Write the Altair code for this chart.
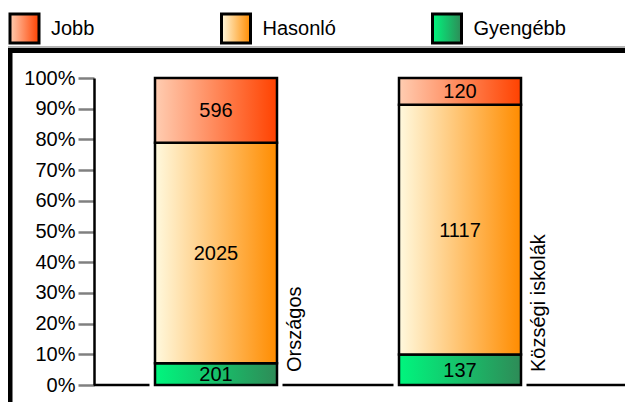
import altair as alt
import pandas as pd

# ---- data ----
groups = ["Országos", "Községi iskolák"]
categories = ["Gyengébb", "Hasonló", "Jobb"]          # bottom -> top
counts_orszagos = [201, 2025, 596]
counts_kozsegi = [137, 1117, 120]
legend_order = ["Jobb", "Hasonló", "Gyengébb"]
y_ticks = [0, 0.1, 0.2, 0.3, 0.4, 0.5, 0.6, 0.7, 0.8, 0.9, 1.0]

grad_colors = {
    "Jobb": ("#FFCDB2", "#FF4200"),
    "Hasonló": ("#FFF9DE", "#FF8C00"),
    "Gyengébb": ("#00F67E", "#2E8B57"),
}

rows = []
for g, cnts in zip(groups, [counts_orszagos, counts_kozsegi]):
    for i, (c, n) in enumerate(zip(categories, cnts)):
        rows.append({"group": g, "category": c, "count": n, "order": i})
df = pd.DataFrame(rows)


def grad(c):
    a, b = grad_colors[c]
    return alt.Gradient(
        gradient="linear",
        stops=[alt.GradientStop(color=a, offset=0), alt.GradientStop(color=b, offset=1)],
        x1=0, x2=1, y1=0, y2=0,
    )


# ---- layout ----
W, H = 488, 307
PL, PT, PR, PB = 86, 70, 43, 17
FONT = "Liberation Sans"

xscale = alt.Scale(domain=groups, paddingInner=0.5, paddingOuter=0.25)
yscale = alt.Scale(domain=[0, 1])
yaxis = alt.Axis(
    values=y_ticks, format=".0%", grid=False, title=None,
    labelFontSize=20, labelColor="black", labelFont=FONT, labelPadding=3,
    tickColor="#808080", tickSize=16, tickWidth=2.5,
    domainColor="black", domainWidth=2.5,
)
X = alt.X("group:N", scale=xscale, axis=None, sort=groups)

base = alt.Chart(df).transform_stack(
    stack="count", groupby=["group"], as_=["y0", "y1"], offset="normalize",
    sort=[alt.SortField(field="order", order="ascending")],
).transform_calculate(mid="(datum.y0 + datum.y1) / 2")

one = pd.DataFrame({"k": [0]})

layers = []

# baseline
layers.append(
    alt.Chart(one).mark_rule(color="black", strokeWidth=2.5).encode(
        x=alt.value(0), x2=alt.value(W + PR),
        y=alt.datum(0, scale=yscale, axis=yaxis),
    )
)

# white mask round the bars (breaks the baseline next to the bars)
layers.append(
    base.mark_bar(fill="white", stroke="white", strokeWidth=11).encode(
        x=X, y=alt.Y("y0:Q", scale=yscale, axis=yaxis), y2="y1:Q"
    )
)

# gradient bar segments
for c in categories:
    layers.append(
        base.transform_filter(alt.datum.category == c)
        .mark_bar(color=grad(c), stroke="black", strokeWidth=2.5)
        .encode(x=X, y=alt.Y("y0:Q", scale=yscale, axis=yaxis), y2="y1:Q")
    )

# values in segments
layers.append(
    base.mark_text(fontSize=20, font=FONT, color="black", baseline="middle", dy=1).encode(
        x=X, y=alt.Y("mid:Q", scale=yscale, axis=yaxis), text="count:Q"
    )
)

# group labels, vertical, to the right of each bar
layers.append(
    alt.Chart(pd.DataFrame({"group": groups}))
    .mark_text(fontSize=20, font=FONT, color="black", angle=270, align="left",
               baseline="alphabetic", dx=13, dy=24)
    .encode(x=alt.X("group:N", scale=xscale, axis=None, sort=groups, bandPosition=1),
            y=alt.value(H), text="group:N")
)

# frame: thin grey line, thick black top and left lines
layers.append(
    alt.Chart(one).mark_rule(color="#9a9a9a", strokeWidth=1.5).encode(
        x=alt.value(-PL), x2=alt.value(W + PR), y=alt.value(-31)
    )
)
layers.append(
    alt.Chart(one).mark_rule(color="black", strokeWidth=5).encode(
        x=alt.value(-PL), x2=alt.value(W + PR), y=alt.value(-27.5)
    )
)
layers.append(
    alt.Chart(one).mark_rule(color="black", strokeWidth=5).encode(
        x=alt.value(-84), y=alt.value(-30), y2=alt.value(H + PB)
    )
)

# legend
legend_x = [-84, 127.5, 338.5]
for c, lx in zip(legend_order, legend_x):
    layers.append(
        alt.Chart(one).mark_rect(color=grad(c), stroke="black", strokeWidth=3).encode(
            x=alt.value(lx), x2=alt.value(lx + 29), y=alt.value(-64), y2=alt.value(-35)
        )
    )
    layers.append(
        alt.Chart(one).mark_text(fontSize=20, font=FONT, color="black", align="left",
                                 baseline="middle").encode(
            x=alt.value(lx + 41), y=alt.value(-49), text=alt.value(c)
        )
    )

chart = (
    alt.layer(*layers)
    .properties(
        width=W, height=H,
        padding={"left": PL, "top": PT, "right": PR, "bottom": PB},
        autosize=alt.AutoSizeParams(type="none"),
    )
    .configure(font=FONT)
    .configure_view(strokeWidth=0, stroke="transparent")
)

chart.save("out.html", embed_options={"renderer": "svg", "actions": False})
